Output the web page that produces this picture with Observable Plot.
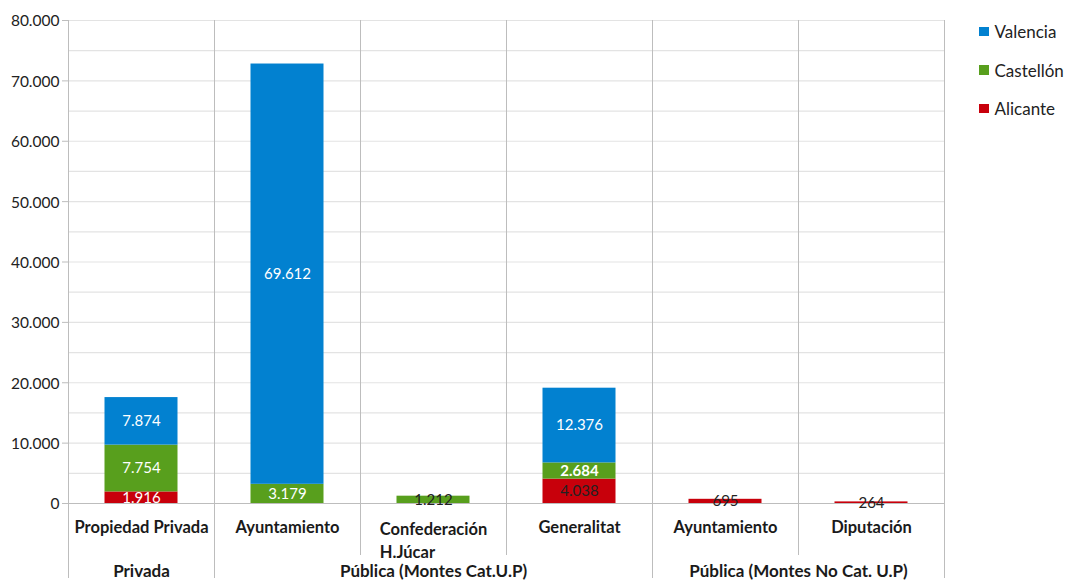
<!DOCTYPE html>
<html>
<head>
<meta charset="utf-8">
<script src="https://cdn.jsdelivr.net/npm/d3@7"></script>
<script src="https://cdn.jsdelivr.net/npm/@observablehq/plot@0.6"></script>
<style>
  body { margin: 0; background: white; font-family: Lato, "Open Sans", sans-serif; }
  #wrap { position: relative; width: 1065px; height: 580px; overflow: hidden; }
  #legend { position: absolute; left: 979px; top: 20px; font-size: 17px; color: #222; }
  #legend .item { display: flex; align-items: center; height: 23px; margin-bottom: 15.5px; }
  #legend .sw { width: 9.5px; height: 9.5px; margin-right: 6px; }
</style>
</head>
<body>
<div id="wrap"><div id="legend"></div></div>
<script>
// ---- data ----
const categories = ["Propiedad Privada", "Ayuntamiento", "Confederación\nH.Júcar", "Generalitat", "Ayuntamiento", "Diputación"];
const categoryGroup = [0, 1, 1, 1, 2, 2];
const groups = ["Privada", "Pública (Montes Cat.U.P)", "Pública (Montes No Cat. U.P)"];
const series = ["Valencia", "Castellón", "Alicante"];
const valencia  = [7874, 69612, 0, 12376, 0, 0];
const castellon = [7754, 3179, 1212, 2684, 0, 0];
const alicante  = [1916, 0, 0, 4038, 695, 264];
const yTicks = [0, 10000, 20000, 30000, 40000, 50000, 60000, 70000, 80000];

// ---- styles ----
const colors = {"Valencia": "#0281d0", "Castellón": "#589f1d", "Alicante": "#c8000b"};
const darkLabel = {"Castellón": [2], "Alicante": [3, 4, 5]};
const boldLabel = {"Castellón": [3]};
const catFont = "bold 16.5px Lato";

const fmt = d => d3.format(",")(d).replace(/,/g, ".");

// stack bottom -> top : Alicante, Castellón, Valencia
const values = {"Valencia": valencia, "Castellón": castellon, "Alicante": alicante};
const rows = [];
categories.forEach((c, i) => {
  let base = 0;
  for (const s of ["Alicante", "Castellón", "Valencia"]) {
    const v = values[s][i];
    if (v > 0) {
      rows.push({i, series: s, value: v, y1: base, y2: base + v,
        ink: (darkLabel[s] || []).includes(i) ? "#222" : "white",
        bold: (boldLabel[s] || []).includes(i)});
    }
    base += v;
  }
});

const groupCenter = groups.map((g, gi) => {
  const idx = categoryGroup.map((d, i) => d === gi ? i : null).filter(d => d !== null);
  return (d3.min(idx) + d3.max(idx) + 1) / 2;
});
const groupBounds = [0];
categoryGroup.forEach((g, i) => { if (i > 0 && g !== categoryGroup[i - 1]) groupBounds.push(i); });
groupBounds.push(categories.length);
const innerBounds = d3.range(1, categories.length).filter(i => !groupBounds.includes(i));

// measure multi-line labels so the block is centred but lines left-aligned
const ctx = document.createElement("canvas").getContext("2d");
ctx.font = catFont;
const catRows = categories.map((c, i) => {
  const lines = c.split("\n");
  const w = d3.max(lines, l => ctx.measureText(l).width);
  return {i, text: c, multi: lines.length > 1, w};
});

const minor = d3.range(0, 80001, 5000);

const chart = Plot.plot({
  width: 1065,
  height: 580,
  marginLeft: 68,
  marginRight: 121,
  marginTop: 20,
  marginBottom: 77,
  x: {domain: [0, categories.length], axis: null},
  y: {domain: [0, 80000], axis: null},
  color: {domain: series, range: series.map(s => colors[s])},
  style: {fontFamily: "Lato, 'Open Sans', sans-serif", fontSize: "15px", color: "#222", background: "white"},
  marks: [
    Plot.ruleY(minor, {stroke: "#e3e3e3", strokeWidth: 1.2}),
    Plot.ruleY(yTicks, {x1: 0, x2: 0, insetLeft: -6, stroke: "#bdbdbd"}),
    Plot.ruleY([0], {stroke: "#bdbdbd"}),
    Plot.ruleX(groupBounds, {stroke: "#bdbdbd", insetBottom: -75}),
    Plot.ruleX(innerBounds, {stroke: "#bdbdbd", insetBottom: -52}),
    Plot.rectY(rows, {x1: d => d.i + 0.25, x2: d => d.i + 0.75, y1: "y1", y2: "y2", fill: "series"}),
    Plot.text(rows.filter(d => !d.bold), {x: d => d.i + 0.5, y: d => (d.y1 + d.y2) / 2, text: d => fmt(d.value), fill: "ink", fontSize: 15}),
    Plot.text(rows.filter(d => d.bold), {x: d => d.i + 0.5, y: d => (d.y1 + d.y2) / 2, text: d => fmt(d.value), fill: "ink", fontSize: 15, fontWeight: "bold"}),
    Plot.text(yTicks, {x: () => 0, y: d => d, text: d => fmt(d), textAnchor: "end", dx: -9, dy: 1, fontSize: 15.5, fill: "#222"}),
    Plot.text(catRows.filter(d => !d.multi), {x: d => d.i + 0.5, y: () => 0, text: "text", lineAnchor: "middle", dy: 24, fontWeight: "bold", fontSize: 16.5, fill: "#1a1a1a"}),
    ...catRows.filter(d => d.multi).map(d =>
      Plot.text([d], {x: d => d.i + 0.5, y: () => 0, text: "text", textAnchor: "start", dx: -d.w / 2, lineAnchor: "top", dy: 15, lineHeight: 1.4, fontWeight: "bold", fontSize: 16.5, fill: "#1a1a1a"})),
    Plot.text(groups, {x: (d, i) => groupCenter[i], y: () => 0, text: d => d, lineAnchor: "middle", dy: 68, fontWeight: "bold", fontSize: 17, fill: "#1a1a1a"})
  ]
});
document.getElementById("wrap").prepend(chart);

const legend = document.getElementById("legend");
for (const s of series) {
  const item = document.createElement("div");
  item.className = "item";
  item.innerHTML = `<span class="sw" style="background:${colors[s]}"></span><span>${s}</span>`;
  legend.appendChild(item);
}
</script>
</body>
</html>
